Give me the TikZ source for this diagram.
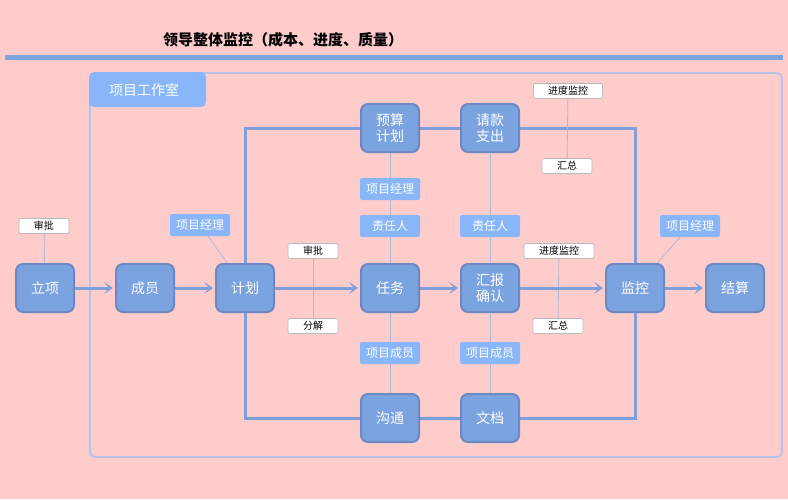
\documentclass[tikz,border=0pt]{standalone}
\usepackage{fontspec}
\newfontfamily\cjk{Noto Sans CJK SC}
\usetikzlibrary{arrows.meta}
\pgfdeclarelayer{bottom}
\pgfdeclarelayer{background}
\pgfsetlayers{bottom,background,main}
\definecolor{bgpink}{HTML}{FFCCCC}
\definecolor{nodefill}{HTML}{7BA3E0}
\definecolor{nodeborder}{HTML}{6C89C2}
\definecolor{labblue}{HTML}{88B6F8}
\definecolor{loopc}{HTML}{7F9FDB}
\definecolor{thinc}{HTML}{AEB8D6}
\definecolor{panelc}{HTML}{B4C2EC}
\definecolor{barc}{HTML}{7FA3DC}
\tikzset{
  mainbox/.style={draw=nodeborder, fill=nodefill, line width=2pt, rounded corners=7pt,
    minimum width=58pt, minimum height=48pt, inner sep=0pt, text=white, align=center,
    font=\cjk\fontsize{14}{16}\selectfont},
  bluelab/.style={fill=labblue, rounded corners=2pt, minimum width=60pt, minimum height=22pt,
    inner sep=0pt, text=white, font=\cjk\fontsize{12}{14}\selectfont},
  whitelab/.style={fill=white, draw=gray!55, line width=0.6pt, rounded corners=2pt,
    minimum width=50pt, minimum height=15pt, inner sep=0pt, text=black,
    font=\cjk\fontsize{10}{12}\selectfont},
  flow/.style={draw=loopc, line width=3pt, shorten >=2pt,
    -{Stealth[length=9pt,width=12pt,inset=5pt]}},
  loopline/.style={draw=loopc, line width=3pt},
  thin/.style={draw=thinc, line width=0.8pt},
}
\begin{document}
\begin{tikzpicture}[x=1pt,y=-1pt]
\begin{pgfonlayer}{bottom}
  \fill[bgpink] (0,0) rectangle (788,499);
  \useasboundingbox (0,0) rectangle (788,499);
  \fill[barc] (5,55) rectangle (783,60);
  \draw[panelc, line width=1.8pt, rounded corners=5pt] (90,73) rectangle (782,457);
  \fill[labblue, rounded corners=5pt] (89,72) rectangle (206,107);
\end{pgfonlayer}
\node[font=\cjk\bfseries\fontsize{15}{18}\selectfont] (title) at (283,40) {领导整体监控（成本、进度、质量）};
\node[text=white, font=\cjk\fontsize{14}{16}\selectfont] (tab) at (144,90) {项目工作室};

% main nodes
\node[mainbox] (lx) at (45,288) {立项};
\node[mainbox] (cy) at (145,288) {成员};
\node[mainbox] (jh) at (245,288) {计划};
\node[mainbox] (rw) at (390,288) {任务};
\node[mainbox] (hb) at (490,288) {汇报\\确认};
\node[mainbox] (jk) at (635,288) {监控};
\node[mainbox] (js) at (735,288) {结算};
\node[mainbox] (ys) at (390,128) {预算\\计划};
\node[mainbox] (qk) at (490,128) {请款\\支出};
\node[mainbox] (gt) at (390,418) {沟通};
\node[mainbox] (wd) at (490,418) {文档};

% labels
\node[whitelab] (sp1) at (44,226) {审批};
\node[bluelab] (pm1) at (200,225) {项目经理};
\node[whitelab] (sp2) at (313,251) {审批};
\node[whitelab] (fj) at (313,326) {分解};
\node[bluelab] (pm2) at (390,189) {项目经理};
\node[bluelab] (zr1) at (390,226) {责任人};
\node[bluelab] (zr2) at (490,226) {责任人};
\node[bluelab] (cyl1) at (390,353) {项目成员};
\node[bluelab] (cyl2) at (490,353) {项目成员};
\node[whitelab, minimum width=69pt] (jd1) at (568,91) {进度监控};
\node[whitelab] (hz1) at (567,166) {汇总};
\node[whitelab, minimum width=70pt] (jd2) at (559,251) {进度监控};
\node[whitelab] (hz2) at (558,326) {汇总};
\node[bluelab] (pm3) at (690,226) {项目经理};

\begin{pgfonlayer}{background}
  % loop
  \draw[loopline] (jh.center) |- (ys.center) -- (qk.center) -| (jk.center);
  \draw[loopline] (jh.center) |- (gt.center) -- (wd.center) -| (jk.center);
  % thin connectors
  \draw[thin] (sp1) -- (lx);
  \draw[thin] (pm1) -- (jh);
  \draw[thin] (sp2) -- (fj);
  \draw[thin] (ys) -- (rw);
  \draw[thin] (rw) -- (gt);
  \draw[thin] (qk) -- (hb);
  \draw[thin] (hb) -- (wd);
  \draw[thin] (jd1) -- (hz1);
  \draw[thin] (jd2) -- (hz2);
  \draw[thin] (pm3) -- (jk);
\end{pgfonlayer}

% flow arrows
\draw[flow] (lx.east) -- (cy.west);
\draw[flow] (cy.east) -- (jh.west);
\draw[flow] (jh.east) -- (rw.west);
\draw[flow] (rw.east) -- (hb.west);
\draw[flow] (hb.east) -- (jk.west);
\draw[flow] (jk.east) -- (js.west);
\end{tikzpicture}
\end{document}
